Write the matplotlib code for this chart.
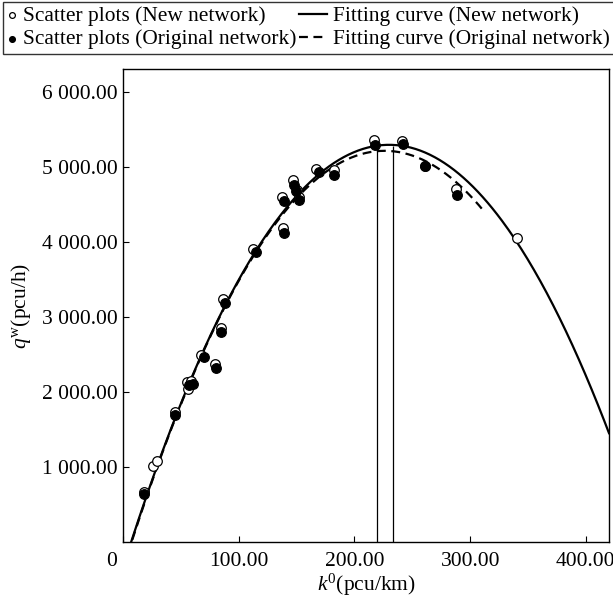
import numpy as np
import matplotlib
matplotlib.use("Agg")
import matplotlib.pyplot as plt
import matplotlib.transforms as mtransforms
from matplotlib.ticker import FuncFormatter
from matplotlib.legend_handler import HandlerPathCollection

plt.rcParams['font.family'] = ['Liberation Serif', 'DejaVu Serif']
plt.rcParams['mathtext.fontset'] = 'custom'
plt.rcParams['mathtext.rm'] = 'Liberation Serif'
plt.rcParams['mathtext.it'] = 'Liberation Serif:italic'

# scatter points, new network (open circles)
k_new = [17.8, 26.2, 29.6, 44.8, 55.4, 56.3, 59.0, 67.8, 79.6, 84.8, 86.8, 112.6,
         137.6, 138.5, 146.6, 150.0, 152.0, 167.2, 181.9, 216.7, 240.8, 261.2, 287.7, 340.2]
q_new = [670, 1013, 1080, 1729, 2129, 2036, 2140, 2493, 2373, 2849, 3236, 3902,
         4591, 4182, 4827, 4693, 4600, 4973, 4951, 5351, 5338, 5013, 4702, 4050]

# scatter points, original network (filled circles)
k_orig = [17.8, 44.8, 57.2, 60.6, 69.8, 80.2, 84.5, 88.5, 114.7, 138.8, 139.4,
          147.4, 149.7, 152.0, 169.2, 181.9, 218.1, 241.6, 261.2, 288.2]
q_orig = [640, 1693, 2093, 2102, 2458, 2324, 2796, 3182, 3862, 4538, 4116,
          4756, 4671, 4560, 4924, 4893, 5293, 5307, 5013, 4622]

# fitted parabolas q = qm - a*(k - kc)^2
fit_new = dict(qm=5290, kc=230, a=0.10638, k0=7, k1=420)
fit_orig = dict(qm=5210, kc=226, a=0.1090, k0=8, k1=312.7)

# critical density markers
k_crit = [219.5, 233.0]
q_crit = [5282, 5272]


class SmallMarkerHandler(HandlerPathCollection):
    # narrow handle box for the scatter entries
    def legend_artist(self, legend, orig_handle, fontsize, handlebox):
        handlebox.width = 0.45 * fontsize
        return super().legend_artist(legend, orig_handle, fontsize, handlebox)


fig = plt.figure(figsize=(6.13, 6.04), dpi=100)
ax = fig.add_axes([0.2007, 0.1026, 0.7928, 0.7832])

for fit, ls, lab in [(fit_new, '-', 'Fitting curve (New network)'),
                     (fit_orig, (0, (4, 2.5)), 'Fitting curve (Original network)')]:
    kk = np.linspace(fit['k0'], fit['k1'], 300)
    qq = fit['qm'] - fit['a'] * (kk - fit['kc']) ** 2
    ax.plot(kk, qq, color='black', lw=1.6, ls=ls, label=lab, zorder=2)

ax.vlines(k_crit, 0, q_crit, color='black', lw=0.9, zorder=1)

sc_new = ax.scatter(k_new, q_new, s=48, facecolor='white', edgecolor='black', lw=0.9,
                    label='Scatter plots (New network)', zorder=3)
sc_orig = ax.scatter(k_orig, q_orig, s=48, facecolor='black', edgecolor='black', lw=0.9,
                     label='Scatter plots (Original network)', zorder=4)

ax.set_xlim(0, 420)
ax.set_ylim(0, 6300)
ax.set_xticks([0, 100, 200, 300, 400])
ax.set_xticklabels(['0', '100.00', '200.00', '300.00', '400.00'])
ax.set_yticks([1000, 2000, 3000, 4000, 5000, 6000])
ax.yaxis.set_major_formatter(FuncFormatter(lambda v, p: f"{v:,.2f}".replace(',', ' ')))
ax.tick_params(direction='in', length=4, width=0.8, labelsize=15.5, pad=4)
ax.tick_params(axis='x', pad=7)
for sp in ax.spines.values():
    sp.set_linewidth(1.0)

# shift the origin label a bit to the left
lab0 = ax.get_xticklabels()[0]
lab0.set_transform(lab0.get_transform() + mtransforms.ScaledTranslation(-11 / 100, 0, fig.dpi_scale_trans))

ax.set_xlabel(r'$k^0$(pcu/km)', fontsize=15.5, labelpad=1)
ax.set_ylabel(r'$q^{\rm w}$(pcu/h)', fontsize=15.5, labelpad=6)

h, l = ax.get_legend_handles_labels()
order = [2, 3, 0, 1]
handles = [h[i] for i in order]
labels = [l[i] for i in order]
hm = SmallMarkerHandler()
leg = fig.legend(handles, labels, ncol=2, loc='upper left', bbox_to_anchor=(0.005, 0.997),
                 frameon=True, fancybox=False, edgecolor='black', fontsize=15.4,
                 handlelength=1.3, handletextpad=0.3, columnspacing=0.1,
                 labelspacing=0.15, borderpad=0.2, borderaxespad=0, markerscale=0.6,
                 handler_map={sc_new: hm, sc_orig: hm})
leg.get_frame().set_linewidth(1.0)

fig.savefig('out.png', dpi=100)
